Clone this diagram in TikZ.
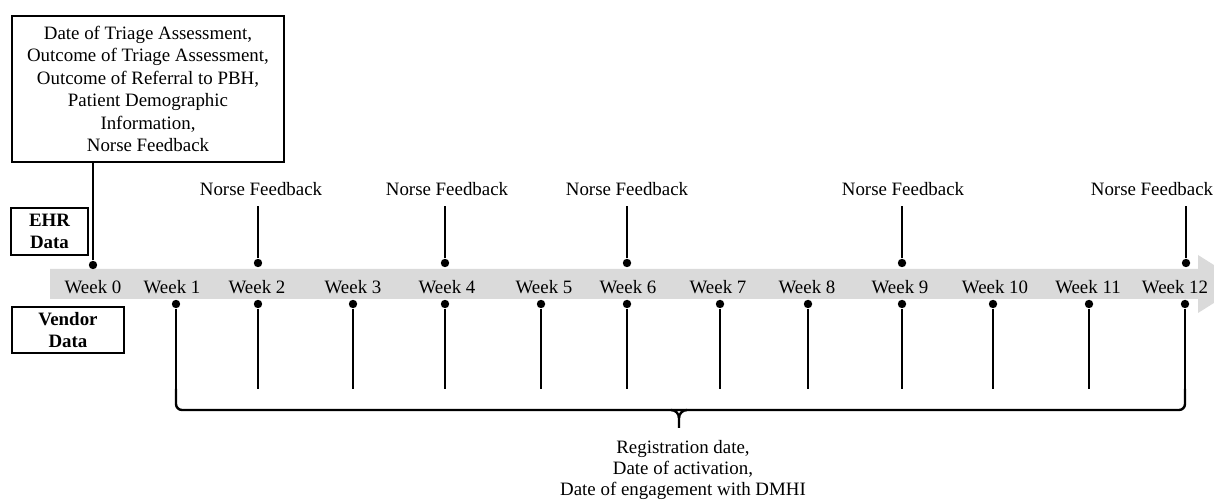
\documentclass[tikz,border=0pt]{standalone}
\usepackage{fontspec}
\setmainfont{Liberation Serif}
\definecolor{bandgray}{RGB}{218,218,218}
\begin{document}
\begin{tikzpicture}[x=0.5pt,y=-0.5pt,
  font=\fontsize{9.45}{11.2}\selectfont,
  box/.style={draw, line width=0.6pt, inner sep=0pt, align=center},
  dotn/.style={circle, fill=black, inner sep=0pt, minimum size=4.2pt},
  conn/.style={line width=0.6pt},
  bracestyle/.style={line width=1.2pt, rounded corners=3pt},
  lbl/.style={inner sep=0pt}]
\useasboundingbox (0,0) rectangle (1214,501);
\clip (0,0) rectangle (1214,501);
% timeline band
\fill[bandgray] (50,269) -- (1198,269) -- (1198,255) -- (1244,284) -- (1198,313) -- (1198,299) -- (50,299) -- cycle;
% week labels
\foreach \i/\x in {0/93,1/172,2/257,3/353,4/447,5/544,6/628,7/718,8/807,9/900,10/995,11/1088,12/1175}
  \node[lbl] (w\i) at (\x,287) {Week \i};
% side boxes
\node[box, font=\fontsize{9.45}{11.2}\selectfont\bfseries, minimum width=38.5pt, minimum height=23.5pt] (ehr) at (49.5,231.5) {EHR\\Data};
\node[box, font=\fontsize{9.45}{11.2}\selectfont\bfseries, minimum width=56pt, minimum height=23pt] (vendor) at (68,330) {Vendor\\Data};
% EHR info box
\node[box, minimum width=136pt, minimum height=73pt] (info) at (148,89)
  {Date of Triage Assessment,\\Outcome of Triage Assessment,\\Outcome of Referral to PBH,\\Patient Demographic\\Information,\\Norse Feedback};
\node[dotn] (t0) at (93,265) {};
\draw[conn] (t0) -- (t0 |- info.south);
% top dots and norse feedback
\foreach \k/\dx/\lx in {2/258/261,4/445/447,6/627/627,9/902/903,12/1186/1152}{
  \node[dotn] (t\k) at (\dx,263) {};
  \node[lbl] (nf\k) at (\lx,189) {Norse Feedback};
  \draw[conn] (t\k) -- ([yshift=-5pt]t\k |- nf\k.south);
}
% bottom dots and lines
\foreach \k/\dx in {1/176,2/258,3/353,4/445,5/541,6/627,7/720,8/808,9/902,10/993,11/1089,12/1185}{
  \node[dotn] (b\k) at (\dx,304) {};
  \coordinate (e\k) at (\dx,389);
  \draw[conn] (b\k) -- (e\k);
}
% brace
\coordinate (bt) at (679,428);
\coordinate (bm) at (679,410);
\draw[bracestyle] (e1) -- (e1 |- bm) -- (e12 |- bm) -- (e12);
\draw[line width=1.2pt] ([xshift=-4pt]bm) to[out=0,in=90] ([yshift=-4pt]bm) -- (bt);
\draw[line width=1.2pt] ([xshift=4pt]bm) to[out=180,in=90] ([yshift=-4pt]bm);
\node[lbl, align=center, font=\fontsize{9.45}{10.5}\selectfont] (reg) at (683,470)
  {Registration date,\\Date of activation,\\Date of engagement with DMHI};
\end{tikzpicture}
\end{document}
